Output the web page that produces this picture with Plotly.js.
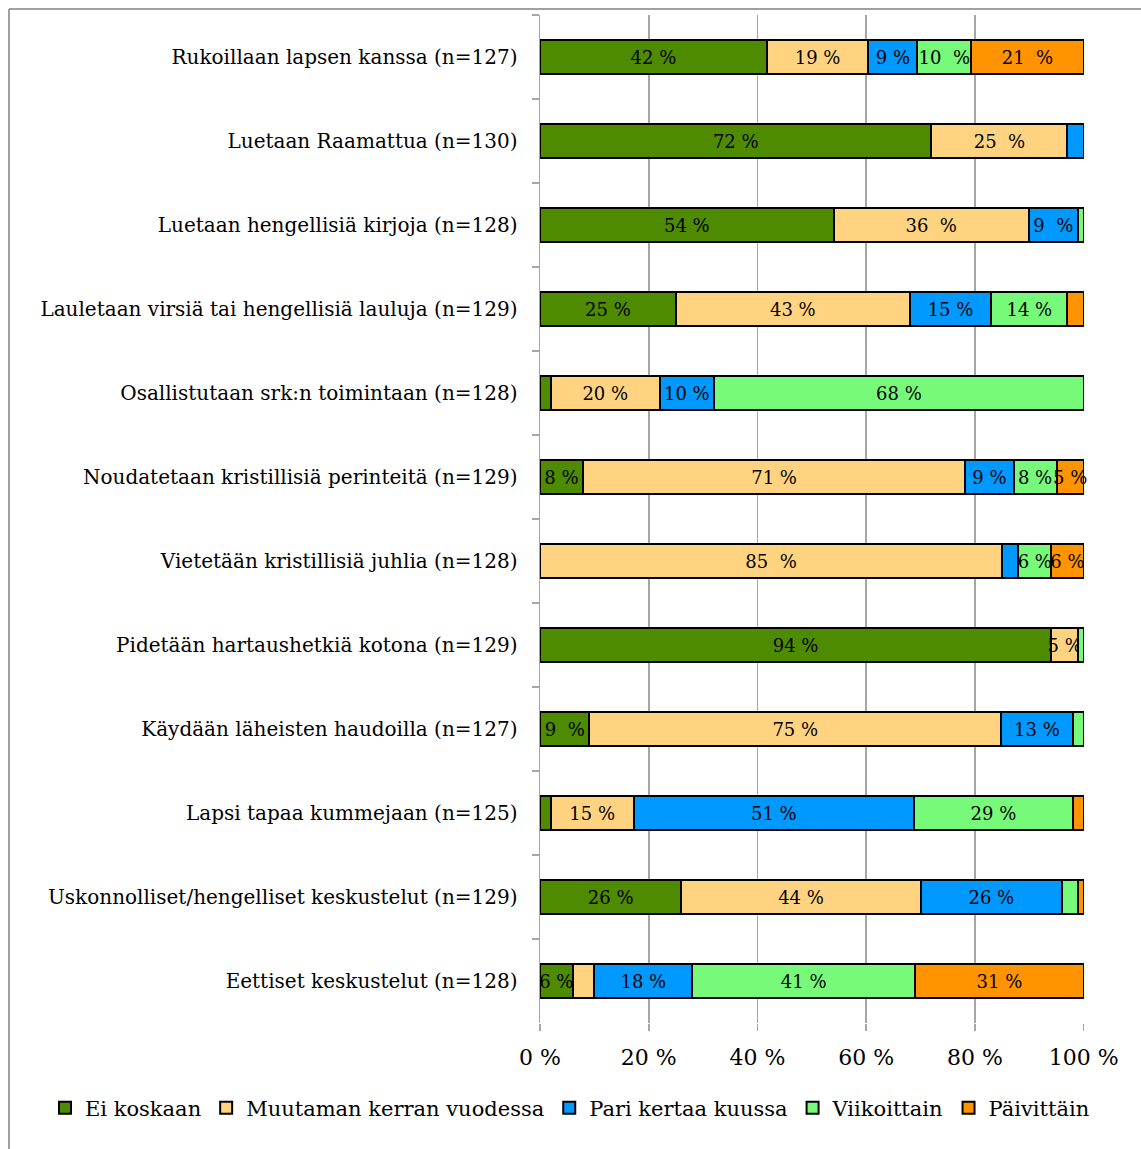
<!DOCTYPE html>
<html>
<head>
<meta charset="utf-8">
<script src="https://cdn.plot.ly/plotly-3.0.1.min.js"></script>
<style>
  html, body { margin: 0; padding: 0; background: #ffffff; }
  #chart { width: 1141px; height: 1149px; }
</style>
</head>
<body>
<div id="chart"></div>
<script>
const categories = [
  'Rukoillaan lapsen kanssa (n=127)',
  'Luetaan Raamattua (n=130)',
  'Luetaan hengellisiä kirjoja (n=128)',
  'Lauletaan virsiä tai hengellisiä lauluja (n=129)',
  'Osallistutaan srk:n toimintaan (n=128)',
  'Noudatetaan kristillisiä perinteitä (n=129)',
  'Vietetään kristillisiä juhlia (n=128)',
  'Pidetään hartaushetkiä kotona (n=129)',
  'Käydään läheisten haudoilla (n=127)',
  'Lapsi tapaa kummejaan (n=125)',
  'Uskonnolliset/hengelliset keskustelut (n=129)',
  'Eettiset keskustelut (n=128)'
];

const seriesNames = ['Ei koskaan', 'Muutaman kerran vuodessa', 'Pari kertaa kuussa', 'Viikoittain', 'Päivittäin'];

const eiKoskaan   = [41.7, 72, 54, 25, 2, 7.9, 0, 94, 9.1, 2, 26, 6];
const muutaman    = [18.7, 25, 35.9, 43, 20, 70.3, 85, 5, 75.7, 15.2, 44, 4];
const pariKertaa  = [9.0, 3, 9, 15, 10, 8.9, 3, 0, 13.2, 51.6, 26, 18];
const viikoittain = [9.9, 0, 1.1, 14, 68, 7.9, 6, 1, 2, 29.2, 3, 41];
const paivittain  = [20.7, 0, 0, 3, 0, 5, 6, 0, 0, 2, 1, 31];

const eiLabels    = ['42 %', '72 %', '54 %', '25 %', '', '8 %', '', '94 %', '9  %', '', '26 %', '6 %'];
const muutLabels  = ['19 %', '25  %', '36  %', '43 %', '20 %', '71 %', '85  %', '5 %', '75 %', '15 %', '44 %', ''];
const pariLabels  = ['9 %', '', '9  %', '15 %', '10 %', '9 %', '', '', '13 %', '51 %', '26 %', '18 %'];
const viikLabels  = ['10  %', '', '', '14 %', '68 %', '8 %', '6 %', '', '', '29 %', '', '41 %'];
const paivLabels  = ['21  %', '', '', '', '', '5 %', '6 %', '', '', '', '', '31 %'];

const xTickVals = [0, 20, 40, 60, 80, 100];
const xTickText = ['0 %', '20 %', '40 %', '60 %', '80 %', '100 %'];

const colors = ['#4F8B00', '#FFD37F', '#0099FF', '#77F97A', '#FF9300'];
const values = [eiKoskaan, muutaman, pariKertaa, viikoittain, paivittain];
const labels = [eiLabels, muutLabels, pariLabels, viikLabels, paivLabels];

const serif = 'DejaVu Serif, Liberation Serif, serif';

const traces = seriesNames.map((name, i) => ({
  type: 'bar',
  orientation: 'h',
  name: name,
  y: categories,
  x: values[i],
  text: labels[i],
  textposition: 'inside',
  insidetextanchor: 'middle',
  textangle: 0,
  cliponaxis: false,
  textfont: { family: serif, size: 18, color: '#000000' },
  marker: { color: colors[i], line: { color: '#000000', width: 2 } },
  hoverinfo: 'skip'
}));

function px2x(px) { return (px - 540) / 544; }
function px2y(py) { return (1023 - py) / 1008; }

const layout = {
  width: 1141,
  height: 1149,
  margin: { l: 540, r: 57, t: 15, b: 126, pad: 0 },
  barmode: 'stack',
  bargap: 0.6,
  paper_bgcolor: '#ffffff',
  plot_bgcolor: '#ffffff',
  showlegend: true,
  uniformtext: { mode: 'show', minsize: 18 },
  font: { family: serif, color: '#000000' },
  xaxis: {
    range: [0, 100.05],
    tickvals: xTickVals,
    ticktext: xTickText,
    showgrid: true,
    gridcolor: '#a6a6a6',
    gridwidth: 1.5,
    zeroline: false,
    showline: false,
    ticks: 'outside',
    ticklen: 7,
    tickcolor: '#a6a6a6',
    tickwidth: 1.5,
    ticklabelstandoff: 8,
    tickfont: { family: serif, size: 22, color: '#000000' },
    fixedrange: true
  },
  yaxis: {
    type: 'category',
    autorange: 'reversed',
    showgrid: false,
    zeroline: false,
    showline: true,
    linecolor: '#a6a6a6',
    linewidth: 1.5,
    ticks: 'outside',
    tickson: 'boundaries',
    ticklen: 7,
    tickcolor: '#a6a6a6',
    tickwidth: 1.5,
    ticklabelstandoff: 17,
    tickfont: { family: serif, size: 20, color: '#000000' },
    fixedrange: true
  },
  legend: {
    orientation: 'h',
    x: px2x(45),
    xanchor: 'left',
    y: px2y(1108),
    yanchor: 'middle',
    font: { family: serif, size: 21, color: '#000000' },
    itemwidth: 30,
    tracegroupgap: 0,
    traceorder: 'normal',
    bgcolor: 'rgba(0,0,0,0)'
  },
  shapes: [
    { type: 'line', xref: 'paper', yref: 'paper', x0: px2x(9), x1: px2x(1141), y0: px2y(9), y1: px2y(9), line: { color: '#a0a0a0', width: 2 } },
    { type: 'line', xref: 'paper', yref: 'paper', x0: px2x(9), x1: px2x(9), y0: px2y(9), y1: px2y(1149), line: { color: '#a0a0a0', width: 2 } }
  ]
};

Plotly.newPlot('chart', traces, layout, { displayModeBar: false, staticPlot: true });
</script>
</body>
</html>
